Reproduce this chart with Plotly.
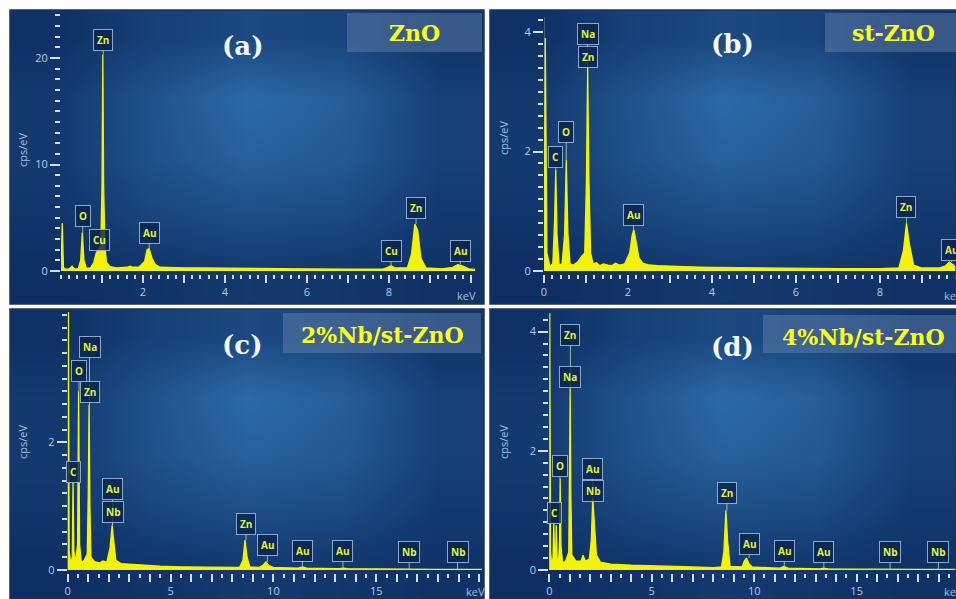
import plotly.graph_objects as go

W, H = 956, 599

# ---------------- EDS spectra (energy in keV, intensity in cps/eV) ----------------
a_kev = [0.00, 0.03, 0.06, 0.12, 0.20, 0.27, 0.33, 0.42, 0.48, 0.52,
         0.56, 0.62, 0.72, 0.80, 0.86, 0.92, 0.97, 1.00, 1.02, 1.04,
         1.07, 1.11, 1.20, 1.35, 1.50, 1.62, 1.68, 1.76, 1.90, 2.04,
         2.10, 2.15, 2.22, 2.30, 2.42, 2.60, 3.00, 3.50, 4.00, 5.00,
         6.00, 7.00, 7.85, 7.97, 8.05, 8.14, 8.45, 8.55, 8.63, 8.70,
         8.78, 8.90, 9.30, 9.55, 9.68, 9.80, 9.95, 10.10]
a_cps = [0.0, 4.5, 0.3, 0.15, 0.2, 0.45, 0.2, 0.2, 1.0, 3.6,
         1.0, 0.25, 0.3, 0.8, 1.7, 2.1, 2.4, 8.0, 20.3, 8.0,
         2.3, 0.8, 0.4, 0.3, 0.3, 0.35, 0.45, 0.35, 0.35, 0.9,
         2.0, 2.1, 1.2, 0.6, 0.35, 0.32, 0.3, 0.28, 0.25, 0.22,
         0.2, 0.18, 0.18, 0.35, 0.5, 0.3, 0.3, 1.6, 4.4, 3.8,
         1.2, 0.3, 0.2, 0.35, 0.6, 0.45, 0.2, 0.15]

b_kev = [0.00, 0.03, 0.07, 0.14, 0.21, 0.25, 0.28, 0.31, 0.36, 0.43,
         0.49, 0.53, 0.57, 0.62, 0.70, 0.80, 0.90, 0.97, 1.01, 1.04,
         1.07, 1.11, 1.17, 1.25, 1.33, 1.42, 1.52, 1.62, 1.70, 1.80,
         1.92, 2.04, 2.10, 2.14, 2.19, 2.26, 2.35, 2.50, 2.70, 3.00,
         3.50, 4.00, 5.00, 6.00, 7.00, 8.00, 8.45, 8.56, 8.63, 8.70,
         8.80, 9.00, 9.40, 9.55, 9.65, 9.75, 9.81]
b_cps = [0.0, 3.9, 0.3, 0.08, 0.12, 0.8, 1.69, 0.6, 0.1, 0.12,
         0.6, 1.86, 0.6, 0.12, 0.1, 0.15, 0.25, 0.3, 1.5, 3.4,
         1.5, 0.3, 0.12, 0.14, 0.09, 0.12, 0.1, 0.09, 0.13, 0.1,
         0.12, 0.3, 0.6, 0.69, 0.5, 0.22, 0.13, 0.1, 0.09, 0.08,
         0.07, 0.06, 0.05, 0.04, 0.04, 0.04, 0.05, 0.35, 0.8, 0.45,
         0.1, 0.05, 0.05, 0.08, 0.15, 0.1, 0.06]

c_kev = [0.00, 0.03, 0.07, 0.15, 0.22, 0.26, 0.30, 0.38, 0.48, 0.53,
         0.58, 0.66, 0.80, 0.95, 1.00, 1.04, 1.08, 1.13, 1.30, 1.55,
         1.72, 1.90, 2.06, 2.16, 2.24, 2.34, 2.60, 3.00, 3.50, 4.50,
         5.50, 7.00, 8.35, 8.52, 8.62, 8.72, 8.85, 9.30, 9.52, 9.64,
         9.78, 10.00, 11.20, 11.42, 11.62, 13.20, 13.40, 13.60, 16.00, 18.00,
         20.14]
c_cps = [0.0, 4.5, 0.3, 0.1, 0.2, 1.38, 0.3, 0.12, 0.4, 2.8,
         0.4, 0.12, 0.15, 0.25, 1.2, 2.59, 1.0, 0.2, 0.13, 0.11,
         0.14, 0.12, 0.35, 0.7, 0.45, 0.15, 0.1, 0.09, 0.08, 0.06,
         0.05, 0.04, 0.04, 0.15, 0.47, 0.2, 0.05, 0.04, 0.08, 0.13,
         0.07, 0.04, 0.03, 0.05, 0.03, 0.02, 0.03, 0.02, 0.01, 0.01,
         0.01]

d_kev = [0.00, 0.02, 0.06, 0.12, 0.18, 0.22, 0.26, 0.30, 0.34, 0.38,
         0.45, 0.50, 0.53, 0.57, 0.65, 0.80, 0.95, 0.99, 1.02, 1.05,
         1.10, 1.30, 1.55, 1.65, 1.75, 1.95, 2.05, 2.12, 2.20, 2.30,
         2.50, 3.00, 4.00, 5.50, 7.00, 8.00, 8.40, 8.52, 8.62, 8.70,
         8.82, 9.40, 9.52, 9.62, 9.75, 9.90, 11.25, 11.45, 11.65, 13.20,
         13.40, 13.60, 16.00, 18.00, 19.85]
d_cps = [0.0, 4.6, 0.3, 0.1, 0.2, 0.81, 0.2, 0.15, 0.75, 0.2,
         0.15, 0.5, 1.54, 0.4, 0.12, 0.15, 0.3, 1.5, 3.05, 1.3,
         0.25, 0.15, 0.15, 0.25, 0.15, 0.18, 0.5, 1.21, 0.8, 0.25,
         0.13, 0.1, 0.08, 0.06, 0.05, 0.04, 0.05, 0.3, 1.0, 0.5,
         0.06, 0.05, 0.15, 0.2, 0.1, 0.05, 0.03, 0.06, 0.03, 0.02,
         0.03, 0.02, 0.01, 0.01, 0.01]

# ---------------- element markers: symbol, energy (keV), peak top (cps/eV) ----------------
a_lbl = ["Zn", "O", "Cu", "Au", "Cu", "Zn", "Au"]
a_lbl_kev = [1.03, 0.53, 0.95, 2.15, 8.05, 8.66, 9.74]
a_lbl_cps = [20.3, 3.6, 2.1, 2.1, 0.5, 4.4, 0.6]

b_lbl = ["Na", "Zn", "C", "O", "Au", "Zn", "Au"]
b_lbl_kev = [1.04, 1.04, 0.28, 0.53, 2.13, 8.63, 9.71]
b_lbl_cps = [3.4, 3.4, 1.69, 1.86, 0.69, 0.8, 0.15]

c_lbl = ["Na", "O", "Zn", "C", "Au", "Nb", "Zn", "Au", "Au", "Au", "Nb", "Nb"]
c_lbl_kev = [1.06, 0.55, 1.06, 0.28, 2.18, 2.18, 8.67, 9.71, 11.41, 13.38, 16.6, 18.95]
c_lbl_cps = [2.59, 2.8, 2.59, 1.38, 0.7, 0.7, 0.47, 0.13, 0.05, 0.02, 0.01, 0.01]

d_lbl = ["Zn", "Na", "O", "C", "Au", "Nb", "Zn", "Au", "Au", "Au", "Nb", "Nb"]
d_lbl_kev = [1.03, 1.03, 0.52, 0.25, 2.13, 2.13, 8.67, 9.75, 11.47, 13.4, 16.63, 18.99]
d_lbl_cps = [3.05, 3.05, 1.54, 0.81, 1.21, 1.21, 1.0, 0.2, 0.06, 0.02, 0.01, 0.01]

# sample names and panel letters
samples = ["ZnO", "st-ZnO", "2%Nb/st-ZnO", "4%Nb/st-ZnO"]
letters = ["(a)", "(b)", "(c)", "(d)"]

# labelled ticks
a_xticks = [1, 2, 3, 4, 5, 6, 7, 8, 9, 10]
a_xtext = ["", "2", "", "4", "", "6", "", "8", "", ""]
b_xticks = [0, 1, 2, 3, 4, 5, 6, 7, 8, 9]
b_xtext = ["0", "", "2", "", "4", "", "6", "", "8", ""]
cd_xticks = list(range(0, 21))
cd_xtext = ["0", "", "", "", "", "5", "", "", "", "", "10", "", "", "", "", "15", "", "", "", "", ""]
a_yticks, a_ytext = [0, 10, 20], ["0", "10", "20"]
b_yticks, b_ytext = [0, 2, 4], ["0", "2", "4"]
c_yticks, c_ytext = [0, 2], ["0", "2"]
d_yticks, d_ytext = [0, 2, 4], ["0", "2", "4"]

# soft glow of the instrument-style backdrop (bottom row first)
bg_glow = [
    [0.00, 0.10, 0.18, 0.14, 0.05],
    [0.12, 0.38, 0.52, 0.45, 0.20],
    [0.20, 0.58, 0.85, 0.72, 0.30],
    [0.18, 0.60, 1.00, 0.80, 0.30],
    [0.05, 0.30, 0.45, 0.38, 0.12],
]

# ---------------- styling / layout (pixel geometry) ----------------
YEL = "#f2f20a"
TICK = "#cfe0f2"
TICKFONT = "#b6cde6"
SANS = "Open Sans, Liberation Sans, sans-serif"
SERIF = "DejaVu Serif, serif"

panels = [
    dict(rect=(10, 484, 10, 304), x0=61.0, xs=41.0, left=61.0, right=476.0,
         y0=271.0, ys=10.65, top=14.0, bottom=274.0,
         kev=a_kev, cps=a_cps, lbl=a_lbl, lkev=a_lbl_kev, lcps=a_lbl_cps,
         lift=[15, 17, 9, 16, 15, 16, 14],
         xt=a_xticks, xtt=a_xtext, xminor=0.2, yt=a_yticks, ytt=a_ytext, yminor=1.0,
         ylab=(22, 150), kev_lab=(455, 295),
         box=(347, 482, 13, 52), name_xy=(414, 33), letter_xy=(242, 46)),
    dict(rect=(490, 956, 10, 304), x0=544.0, xs=42.0, left=544.0, right=956.0,
         y0=271.0, ys=59.75, top=16.0, bottom=274.0,
         kev=b_kev, cps=b_cps, lbl=b_lbl, lkev=b_lbl_kev, lcps=b_lbl_cps,
         lift=[34, 11, 13, 28, 15, 16, 12],
         xt=b_xticks, xtt=b_xtext, xminor=0.2, yt=b_yticks, ytt=b_ytext, yminor=0.2,
         ylab=(504, 138), kev_lab=(942, 295),
         box=(825, 956, 13, 52), name_xy=(893, 33), letter_xy=(732, 44)),
    dict(rect=(10, 484, 309, 599), x0=67.7, xs=20.57, left=67.7, right=482.0,
         y0=570.0, ys=63.8, top=312.0, bottom=573.0,
         kev=c_kev, cps=c_cps, lbl=c_lbl, lkev=c_lbl_kev, lcps=c_lbl_cps,
         lift=[58, 20, 13, 10, 36, 13, 16, 17, 16, 18, 17, 17],
         xt=cd_xticks, xtt=cd_xtext, xminor=0.5, yt=c_yticks, ytt=c_ytext, yminor=0.2,
         ylab=(22, 442), kev_lab=(464, 591),
         box=(283, 481, 313, 353), name_xy=(382, 335), letter_xy=(242, 345)),
    dict(rect=(490, 956, 309, 599), x0=549.3, xs=20.49, left=549.3, right=956.0,
         y0=570.0, ys=59.6, top=313.0, bottom=573.0,
         kev=d_kev, cps=d_cps, lbl=d_lbl, lkev=d_lbl_kev, lcps=d_lbl_cps,
         lift=[53, 11, 12, 9, 29, 7, 17, 14, 15, 17, 17, 17],
         xt=cd_xticks, xtt=cd_xtext, xminor=0.5, yt=d_yticks, ytt=d_ytext, yminor=0.2,
         ylab=(503, 442), kev_lab=(942, 591),
         box=(763, 956, 315, 353), name_xy=(863, 337), letter_xy=(732, 347)),
]


def fx(px):
    return px / W


def fy(py):
    return 1 - py / H


fig = go.Figure()
layout = dict(
    width=W, height=H, margin=dict(l=0, r=0, t=0, b=0),
    paper_bgcolor="white", plot_bgcolor="rgba(0,0,0,0)",
    showlegend=False, template="none",
)
shapes, annotations = [], []

# backdrop heatmaps on axes 1-4
for i, p in enumerate(panels):
    l, r, t, b = p["rect"]
    k = i + 1
    fig.add_trace(go.Heatmap(
        z=bg_glow, x=[0, 1, 2, 3, 4], y=[0, 1, 2, 3, 4], zmin=0, zmax=1,
        zsmooth="best", showscale=False, hoverinfo="skip",
        colorscale=[[0, "rgb(13,46,98)"], [1, "rgb(44,106,166)"]],
        xaxis=f"x{k}", yaxis=f"y{k}"))
    layout[f"xaxis{k}"] = dict(domain=[fx(l), fx(r)], range=[-0.5, 4.5], visible=False,
                               anchor=f"y{k}", fixedrange=True)
    layout[f"yaxis{k}"] = dict(domain=[fy(b), fy(t)], range=[-0.5, 4.5], visible=False,
                               anchor=f"x{k}", fixedrange=True)
    # panel frame
    shapes.append(dict(type="rect", xref="paper", yref="paper", x0=fx(l), x1=fx(r),
                       y0=fy(b), y1=fy(t), line=dict(color="#1c3358", width=1.5),
                       fillcolor="rgba(0,0,0,0)", layer="above"))

# spectra on axes 5-8
for i, p in enumerate(panels):
    k = i + 5
    xa, ya = f"x{k}", f"y{k}"
    xr = [(p["left"] - p["x0"]) / p["xs"], (p["right"] - p["x0"]) / p["xs"]]
    yr = [(p["y0"] - p["bottom"]) / p["ys"], (p["y0"] - p["top"]) / p["ys"]]
    fig.add_trace(go.Scatter(
        x=p["kev"], y=p["cps"], mode="lines", line=dict(color=YEL, width=1.3),
        fill="tozeroy", fillcolor=YEL, hoverinfo="skip", xaxis=xa, yaxis=ya))
    layout[f"xaxis{k}"] = dict(
        domain=[fx(p["left"]), fx(p["right"])], range=xr, anchor=ya,
        showgrid=False, zeroline=False, showline=False,
        ticks="outside", ticklen=8, tickwidth=2, tickcolor=TICK,
        tickmode="array", tickvals=p["xt"], ticktext=p["xtt"],
        tickfont=dict(family=SANS, size=11, color=TICKFONT),
        minor=dict(ticks="outside", ticklen=4, tickwidth=2, tickcolor=TICK,
                   tickmode="linear", tick0=0, dtick=p["xminor"], showgrid=False),
        fixedrange=True)
    layout[f"yaxis{k}"] = dict(
        domain=[fy(p["bottom"]), fy(p["top"])], range=yr, anchor=xa,
        showgrid=False, zeroline=False, showline=False,
        ticks="outside", ticklen=10, tickwidth=2, tickcolor=TICK,
        tickmode="array", tickvals=p["yt"], ticktext=p["ytt"],
        tickfont=dict(family=SANS, size=11, color=TICKFONT),
        minor=dict(ticks="outside", ticklen=5, tickwidth=2, tickcolor=TICK,
                   tickmode="linear", tick0=0, dtick=p["yminor"], showgrid=False),
        fixedrange=True)

    # element markers with pointer to the peak
    for txt, ek, ec, lift in zip(p["lbl"], p["lkev"], p["lcps"], p["lift"]):
        annotations.append(dict(
            xref=xa, yref=ya, x=ek, y=ec, text=f"<b>{txt}</b>",
            showarrow=True, ax=0, ay=-lift, arrowhead=0, arrowwidth=1,
            arrowcolor="rgba(175,205,175,0.85)", standoff=0,
            font=dict(family=SANS, size=10, color="#e6f03a"),
            bgcolor="rgba(8,36,78,0.82)", bordercolor="rgba(150,182,215,0.9)",
            borderwidth=1, borderpad=3))

    # axis captions
    annotations.append(dict(xref="paper", yref="paper", x=fx(p["ylab"][0]), y=fy(p["ylab"][1]),
                            text="cps/eV", textangle=-90, showarrow=False,
                            xanchor="center", yanchor="middle",
                            font=dict(family=SANS, size=11, color="#a4c0de")))
    annotations.append(dict(xref="paper", yref="paper", x=fx(p["kev_lab"][0]), y=fy(p["kev_lab"][1]),
                            text="keV", showarrow=False, xanchor="left", yanchor="middle",
                            font=dict(family=SANS, size=11, color="#a4c0de")))

    # sample name box and panel letter
    bl, br, bt, bb = p["box"]
    shapes.append(dict(type="rect", xref="paper", yref="paper", x0=fx(bl), x1=fx(br),
                       y0=fy(bb), y1=fy(bt), line=dict(width=0),
                       fillcolor="rgba(110,140,180,0.42)", layer="above"))
    annotations.append(dict(xref="paper", yref="paper", x=fx(p["name_xy"][0]), y=fy(p["name_xy"][1]),
                            text=f"<b>{samples[i]}</b>", showarrow=False,
                            xanchor="center", yanchor="middle",
                            font=dict(family=SERIF, size=22, color="#ffff1a")))
    annotations.append(dict(xref="paper", yref="paper", x=fx(p["letter_xy"][0]), y=fy(p["letter_xy"][1]),
                            text=f"<b>{letters[i]}</b>", showarrow=False,
                            xanchor="center", yanchor="middle",
                            font=dict(family=SERIF, size=26, color="#f4f6fa")))

# faint energy cursor at the zero-energy strobe in (b)
shapes.append(dict(type="line", xref="x6", yref="y6", x0=0.0, x1=0.0, y0=0, y1=4.25,
                   line=dict(color="rgba(190,215,170,0.6)", width=1), layer="above"))

layout["shapes"] = shapes
layout["annotations"] = annotations
fig.update_layout(**layout)
fig.write_html("out.html")
